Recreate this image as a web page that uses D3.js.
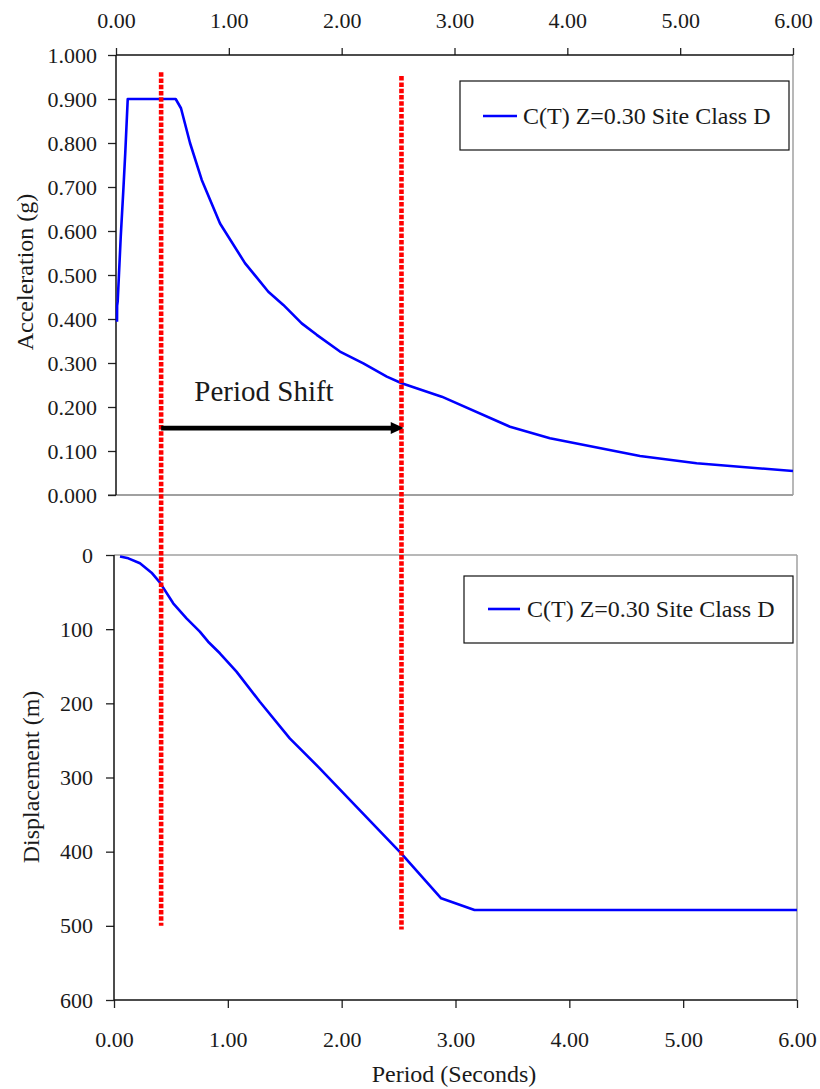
<!DOCTYPE html>
<html>
<head>
<meta charset="utf-8">
<script src="https://cdn.jsdelivr.net/npm/d3@7"></script>
<style>
  html, body { margin: 0; padding: 0; background: #fff; }
  svg { display: block; }
  text { font-family: "Liberation Serif", "Times New Roman", serif; fill: #1a1a1a; }
</style>
</head>
<body>
<svg id="chart" width="820" height="1089"></svg>
<script>
// ---- data ----
const accelPeriod = [0.009, 0.010, 0.015, 0.027, 0.042, 0.065, 0.082, 0.104, 0.529, 0.576, 0.656, 0.76, 0.922, 1.143, 1.35, 1.483, 1.646, 1.779, 1.985, 2.192, 2.40, 2.532, 2.887, 3.492, 3.846, 4.644, 5.146, 6.0];
const accelValue  = [0.394, 0.430, 0.440, 0.505, 0.587, 0.693, 0.777, 0.900, 0.900, 0.879, 0.800, 0.716, 0.617, 0.527, 0.462, 0.432, 0.390, 0.364, 0.326, 0.299, 0.269, 0.254, 0.2235, 0.155, 0.129, 0.0886, 0.072, 0.0545];

const dispPeriod = [0.053, 0.126, 0.228, 0.33, 0.404, 0.52, 0.637, 0.754, 0.827, 0.93, 1.076, 1.281, 1.544, 1.807, 2.129, 2.523, 2.874, 3.167, 6.0];
const dispValue  = [2.0, 4.5, 11.2, 23.8, 37.3, 65.1, 85.4, 103.4, 116.9, 132.5, 157.3, 197.8, 247.2, 287.6, 339.3, 402.2, 462.9, 478.6, 478.6];

const shiftPeriods = [0.40, 2.53];
const shiftTopAccel = [0.961, 0.952];
const shiftBottomDisp = [500, 505];
const arrowFrom = 0.40, arrowTo = 2.55, arrowAccel = 0.152;

const periodTicks = [0, 1, 2, 3, 4, 5, 6];
const accelTicks = [0, 0.1, 0.2, 0.3, 0.4, 0.5, 0.6, 0.7, 0.8, 0.9, 1.0];
const dispTicks = [0, 100, 200, 300, 400, 500, 600];

const seriesLabel = "C(T) Z=0.30 Site Class D";
const accelTitle = "Acceleration (g)";
const dispTitle = "Displacement (m)";
const periodTitle = "Period (Seconds)";
const shiftLabel = "Period Shift";

// ---- layout ----
const svg = d3.select("#chart");
const xTop = d3.scaleLinear().domain([0, 6]).range([116, 793]);
const yTop = d3.scaleLinear().domain([0, 1]).range([495, 55]);
const xBot = d3.scaleLinear().domain([0, 6]).range([114, 797]);
const yBot = d3.scaleLinear().domain([0, 600]).range([555, 1000]);

const BLUE = "#0000ff", RED = "#ff0000", GRAY = "#a0a0a0";
const tickFont = "22px";

function styleAxis(g) {
  g.attr("font-family", null);
  g.select(".domain").remove();
  g.selectAll(".tick line").attr("stroke", "#222").attr("stroke-width", 1.3);
  g.selectAll(".tick text").style("font-size", tickFont).style("font-family", "'Liberation Serif', serif").attr("fill", "#1a1a1a");
}

// ===== top chart =====
const topG = svg.append("g");
topG.append("line").attr("x1", xTop(6)).attr("x2", xTop(6)).attr("y1", yTop(1)).attr("y2", yTop(0)).attr("stroke", GRAY).attr("stroke-width", 1.5);
topG.append("line").attr("x1", xTop(0) - 8).attr("x2", xTop(6)).attr("y1", yTop(0)).attr("y2", yTop(0)).attr("stroke", GRAY).attr("stroke-width", 1.8);

topG.append("g").attr("transform", `translate(0,${yTop(1)})`)
  .call(d3.axisTop(xTop).tickValues(periodTicks).tickFormat(d3.format(".2f")).tickSize(7).tickPadding(20))
  .call(styleAxis);
topG.append("g").attr("transform", `translate(${xTop(0)},0)`)
  .call(d3.axisLeft(yTop).tickValues(accelTicks).tickFormat(d3.format(".3f")).tickSize(8).tickPadding(11))
  .call(styleAxis);
topG.append("line").attr("x1", xTop(0)).attr("x2", xTop(6)).attr("y1", yTop(1)).attr("y2", yTop(1)).attr("stroke", "#111").attr("stroke-width", 1.5);
topG.append("line").attr("x1", xTop(0)).attr("x2", xTop(0)).attr("y1", yTop(1)).attr("y2", yTop(0)).attr("stroke", "#111").attr("stroke-width", 1.5);

const accelData = accelPeriod.map((p, i) => [p, accelValue[i]]);
topG.append("path").datum(accelData)
  .attr("fill", "none").attr("stroke", BLUE).attr("stroke-width", 2.6).attr("stroke-linejoin", "round")
  .attr("d", d3.line().x(d => xTop(d[0])).y(d => yTop(d[1])));

topG.append("text").attr("transform", `translate(33,${272}) rotate(-90)`)
  .attr("text-anchor", "middle").style("font-size", "24px").text(accelTitle);

const lg1 = topG.append("g");
lg1.append("rect").attr("x", 460).attr("y", 81).attr("width", 329).attr("height", 69).attr("fill", "#fff").attr("stroke", "#111").attr("stroke-width", 1.2);
lg1.append("line").attr("x1", 483).attr("x2", 517).attr("y1", 116).attr("y2", 116).attr("stroke", BLUE).attr("stroke-width", 2.6);
lg1.append("text").attr("x", 523).attr("y", 124).style("font-size", "24px").text(seriesLabel);

// ===== bottom chart =====
const botG = svg.append("g");
botG.append("line").attr("x1", xBot(0)).attr("x2", xBot(6)).attr("y1", yBot(0)).attr("y2", yBot(0)).attr("stroke", GRAY).attr("stroke-width", 1.5);
botG.append("line").attr("x1", xBot(6)).attr("x2", xBot(6)).attr("y1", yBot(0)).attr("y2", yBot(600)).attr("stroke", GRAY).attr("stroke-width", 1.5);

botG.append("g").attr("transform", `translate(0,${yBot(600)})`)
  .call(d3.axisBottom(xBot).tickValues(periodTicks).tickFormat(d3.format(".2f")).tickSize(8).tickPadding(23))
  .call(styleAxis);
botG.append("g").attr("transform", `translate(${xBot(0)},0)`)
  .call(d3.axisLeft(yBot).tickValues(dispTicks).tickFormat(d3.format("d")).tickSize(8).tickPadding(13))
  .call(styleAxis);
botG.append("line").attr("x1", xBot(0)).attr("x2", xBot(6)).attr("y1", yBot(600)).attr("y2", yBot(600)).attr("stroke", "#111").attr("stroke-width", 1.5);
botG.append("line").attr("x1", xBot(0)).attr("x2", xBot(0)).attr("y1", yBot(0)).attr("y2", yBot(600)).attr("stroke", "#111").attr("stroke-width", 1.5);

const dispData = dispPeriod.map((p, i) => [p, dispValue[i]]);
botG.append("path").datum(dispData)
  .attr("fill", "none").attr("stroke", BLUE).attr("stroke-width", 2.6).attr("stroke-linejoin", "round")
  .attr("d", d3.line().x(d => xBot(d[0])).y(d => yBot(d[1])));

botG.append("text").attr("transform", `translate(39,${777}) rotate(-90)`)
  .attr("text-anchor", "middle").style("font-size", "24px").text(dispTitle);
botG.append("text").attr("x", 454).attr("y", 1082)
  .attr("text-anchor", "middle").style("font-size", "24px").text(periodTitle);

const lg2 = botG.append("g");
lg2.append("rect").attr("x", 464).attr("y", 576).attr("width", 329).attr("height", 67).attr("fill", "#fff").attr("stroke", "#111").attr("stroke-width", 1.2);
lg2.append("line").attr("x1", 488).attr("x2", 520).attr("y1", 609).attr("y2", 609).attr("stroke", BLUE).attr("stroke-width", 2.6);
lg2.append("text").attr("x", 527).attr("y", 617).style("font-size", "24px").text(seriesLabel);

// ===== period shift annotation =====
const ann = svg.append("g");
shiftPeriods.forEach((p, i) => {
  ann.append("line")
    .attr("x1", xTop(p)).attr("x2", xTop(p))
    .attr("y1", yTop(shiftTopAccel[i])).attr("y2", yBot(shiftBottomDisp[i]))
    .attr("stroke", RED).attr("stroke-width", 4.6).attr("stroke-dasharray", "4.5 1.8");
});

const ay = yTop(arrowAccel);
const ax0 = xTop(arrowFrom), ax1 = xTop(arrowTo);
ann.append("line").attr("x1", ax0).attr("x2", ax1 - 10).attr("y1", ay).attr("y2", ay)
  .attr("stroke", "#000").attr("stroke-width", 4.8);
ann.append("path")
  .attr("d", `M${ax1 - 13},${ay - 6} L${ax1},${ay} L${ax1 - 13},${ay + 6} Z`)
  .attr("fill", "#000");
ann.append("text").attr("x", 264).attr("y", 401)
  .attr("text-anchor", "middle").style("font-size", "29px").text(shiftLabel);
</script>
</body>
</html>
